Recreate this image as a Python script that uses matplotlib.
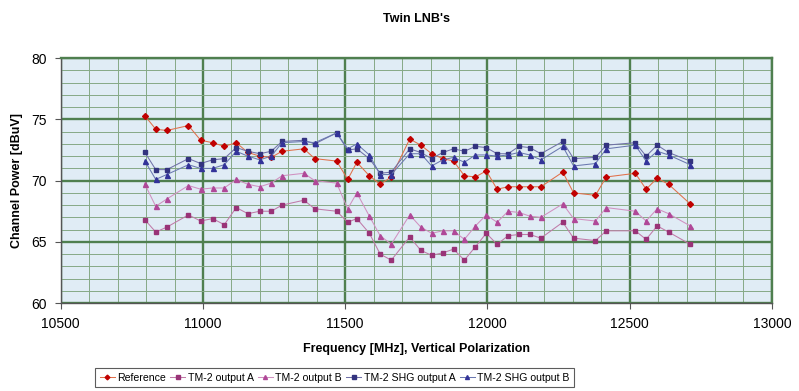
import matplotlib
matplotlib.use("Agg")
import matplotlib.pyplot as plt
from matplotlib.ticker import MultipleLocator

plt.rcParams["font.family"] = ["Liberation Sans", "DejaVu Sans"]

freq = [10796, 10834, 10873, 10949, 10992, 11034, 11075, 11117, 11158, 11200,
        11240, 11278, 11355, 11393, 11470, 11509, 11541, 11585, 11623, 11662,
        11727, 11766, 11804, 11843, 11881, 11919, 11958, 11996, 12034, 12073,
        12111, 12149, 12188, 12265, 12303, 12380, 12418, 12520, 12558, 12597,
        12637, 12713]

reference = [75.3, 74.2, 74.1, 74.5, 73.3, 73.1, 72.8, 73.1, 72.3, 72.0,
             71.9, 72.4, 72.6, 71.8, 71.6, 70.1, 71.5, 70.4, 69.7, 70.3,
             73.4, 72.9, 72.2, 71.8, 71.6, 70.4, 70.3, 70.8, 69.3, 69.5,
             69.5, 69.5, 69.5, 70.7, 69.0, 68.8, 70.3, 70.6, 69.3, 70.2,
             69.7, 68.1]

tm2_a = [66.8, 65.8, 66.2, 67.2, 66.7, 66.9, 66.4, 67.8, 67.3, 67.5,
         67.5, 68.0, 68.4, 67.7, 67.5, 66.6, 66.9, 65.7, 64.0, 63.5,
         65.4, 64.3, 63.9, 64.1, 64.4, 63.5, 64.6, 65.7, 64.8, 65.5,
         65.6, 65.6, 65.3, 66.6, 65.3, 65.1, 65.9, 65.9, 65.2, 66.3,
         65.8, 64.8]

tm2_b = [69.7, 67.9, 68.5, 69.6, 69.3, 69.4, 69.4, 70.1, 69.7, 69.5,
         69.8, 70.4, 70.6, 70.0, 69.8, 67.7, 69.0, 67.1, 65.5, 64.8,
         67.2, 66.2, 65.7, 65.9, 65.9, 65.2, 66.3, 67.2, 66.6, 67.5,
         67.4, 67.1, 67.0, 68.1, 66.9, 66.7, 67.8, 67.5, 66.7, 67.7,
         67.3, 66.3]

shg_a = [72.3, 70.9, 70.9, 71.8, 71.4, 71.7, 71.8, 72.7, 72.4, 72.2,
         72.4, 73.2, 73.3, 73.0, 73.9, 72.5, 72.6, 71.8, 70.6, 70.7,
         72.6, 72.3, 71.8, 72.3, 72.6, 72.4, 72.8, 72.7, 72.2, 72.2,
         72.8, 72.7, 72.2, 73.2, 71.8, 71.9, 72.9, 73.1, 72.0, 72.9,
         72.3, 71.6]

shg_b = [71.6, 70.1, 70.5, 71.3, 71.0, 71.0, 71.3, 72.4, 72.0, 71.7,
         72.0, 73.1, 73.2, 73.1, 73.9, 72.6, 73.0, 72.1, 70.5, 70.5,
         72.2, 72.2, 71.2, 71.7, 71.9, 71.5, 72.1, 72.1, 72.0, 72.1,
         72.3, 72.1, 71.7, 72.8, 71.2, 71.4, 72.6, 72.9, 71.6, 72.4,
         72.1, 71.3]

series = [
    ("Reference", reference, "D", 3.0, "#c00000", "#e0704a"),
    ("TM-2 output A", tm2_a, "s", 3.4, "#993377", "#c07aa8"),
    ("TM-2 output B", tm2_b, "^", 3.6, "#b04898", "#d090c0"),
    ("TM-2 SHG output A", shg_a, "s", 3.4, "#33337f", "#7070a8"),
    ("TM-2 SHG output B", shg_b, "^", 3.6, "#333399", "#6a78b0"),
]

fig = plt.figure(figsize=(7.99, 3.91), dpi=100)
ax = fig.add_axes([0.076, 0.225, 0.890, 0.626])
ax.set_facecolor("#e0ecf5")

for name, vals, mk, ms, mcol, lcol in series:
    ax.plot(freq, vals, color=lcol, lw=0.75, marker=mk, ms=ms,
            mfc=mcol, mec=mcol, label=name, zorder=3)

ax.set_xlim(10500, 13000)
ax.set_ylim(60, 80)
ax.xaxis.set_major_locator(MultipleLocator(500))
ax.xaxis.set_minor_locator(MultipleLocator(100))
ax.yaxis.set_major_locator(MultipleLocator(5))
ax.yaxis.set_minor_locator(MultipleLocator(1))
ax.grid(which="major", color="#4f7f4f", lw=1.7, zorder=1)
ax.grid(which="minor", color="#86a886", lw=0.7, zorder=1)
ax.set_axisbelow(True)

for s in ("top", "right"):
    ax.spines[s].set_color("#4f7f4f")
    ax.spines[s].set_linewidth(1.7)
for s in ("left", "bottom"):
    ax.spines[s].set_color("#555555")
    ax.spines[s].set_linewidth(1.0)

ax.tick_params(which="major", length=4, width=0.8, color="#555555",
               labelsize=10, pad=6)
ax.tick_params(which="minor", length=0)

ax.set_title("Twin LNB's", fontsize=9, fontweight="bold", pad=26)
ax.set_xlabel("Frequency [MHz], Vertical Polarization", fontsize=9,
              fontweight="bold", labelpad=9)
ax.set_ylabel("Channel Power [dBuV]", fontsize=9, fontweight="bold",
              labelpad=6)

leg = fig.legend(loc="center", bbox_to_anchor=(0.419, 0.034), ncol=5,
                 fontsize=7.6, frameon=True, fancybox=False, handlelength=1.4,
                 handletextpad=0.25, columnspacing=0.4, borderpad=0.45,
                 borderaxespad=0.2, markerscale=0.8)
leg.get_frame().set_edgecolor("#333333")
leg.get_frame().set_linewidth(0.8)

fig.savefig("out.png", dpi=100)
